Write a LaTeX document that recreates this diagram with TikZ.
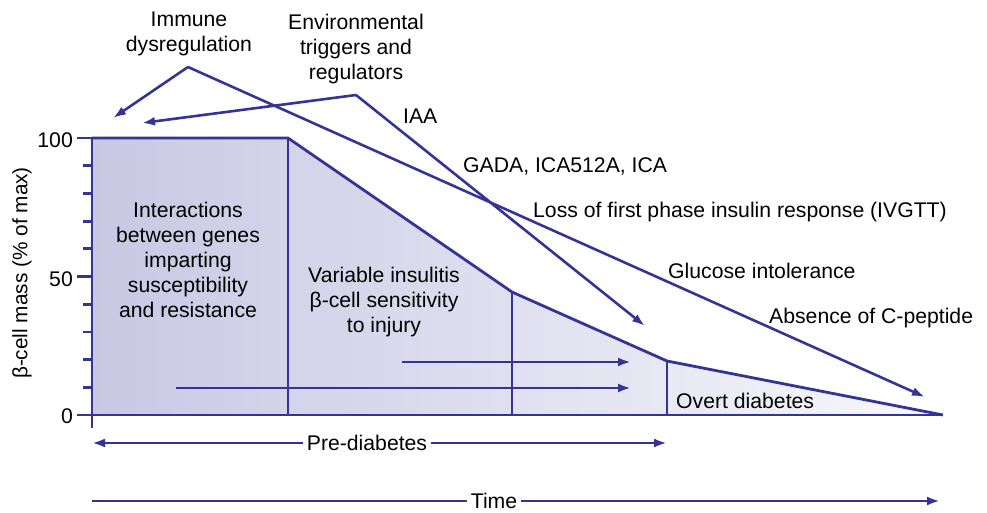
\documentclass[tikz,border=0pt]{standalone}
\usepackage{fontspec}
\setmainfont{Liberation Sans}
\usetikzlibrary{arrows.meta}
\definecolor{lc}{RGB}{52,52,150}
\definecolor{fillL}{RGB}{200,200,228}
\definecolor{fillR}{RGB}{248,248,252}
\begin{document}
\begin{tikzpicture}[x=1pt,y=-1pt,line join=round,
  every node/.style={font=\fontsize{21.2}{25}\selectfont,text=black},
  ln/.style={draw=lc,line width=2.8pt},
  arr/.style={draw=lc,line width=2.6pt,-{Latex[length=13pt,width=9pt]}},
  lab/.style={anchor=base west,inner sep=0pt},
  blk/.style={anchor=base,align=center,inner sep=0pt},
  tick/.style={anchor=base east,inner sep=0pt}]
\useasboundingbox (0,0) rectangle (987,512);
% chart outline points
\coordinate (p0) at (92,415);
\coordinate (p1) at (92,138);
\coordinate (p2) at (288,138);
\coordinate (p3) at (512,292);
\coordinate (p4) at (667,361);
\coordinate (p5) at (943,415);
\coordinate (b2) at (288,415);
\coordinate (b3) at (512,415);
\coordinate (b4) at (667,415);
\coordinate (axB) at (92,428);
\coordinate (axL) at (77,415);
\shade[left color=fillL,right color=fillR] (p0) -- (p1) -- (p2) -- (p3) -- (p4) -- (p5) -- cycle;
\draw[ln] (p1) -- (p2) -- (p3) -- (p4) -- (p5);
\draw[ln] (b2) -- (p2);
\draw[ln] (b3) -- (p3);
\draw[ln] (b4) -- (p4);
\draw[ln] (axB) -- (p1);
\draw[ln] (axL) -- (p5);
\foreach \i in {1,2,3,4,6,7,8,9}{\draw[ln] (83,415-27.7*\i) -- (92,415-27.7*\i);}
\foreach \i in {5,10}{\draw[ln] (77,415-27.7*\i) -- (92,415-27.7*\i);}
% tick labels
\node[tick] (t100) at (73,147) {100};
\node[tick] (t50) at (73,286) {50};
\node[tick] (t0) at (73,423) {0};
\node[rotate=90,inner sep=0pt,font=\fontsize{20.8}{25}\selectfont] (ylab) at (22,273) {β-cell mass (\% of max)};
% top labels and arrows
\node[blk] (imm) at (189,51) {Immune\\dysregulation};
\node[blk] (env) at (356,79) {Environmental\\triggers and\\regulators};
\coordinate (immA) at (188,67);
\coordinate (immL) at (113,118);
\coordinate (immR) at (925,397);
\coordinate (envA) at (356,95);
\coordinate (envL) at (142,123);
\coordinate (envR) at (645,326);
\draw[arr] (immA) -- (immL);
\draw[arr] (immA) -- (immR);
\draw[arr] (envA) -- (envL);
\draw[arr] (envA) -- (envR);
\node[lab] (iaa) at (403,123) {IAA};
\node[lab] (gada) at (463,172) {GADA, ICA512A, ICA};
\node[lab] (loss) at (533,217) {Loss of first phase insulin response (IVGTT)};
\node[lab] (gluc) at (668,278) {Glucose intolerance};
\node[lab] (absc) at (769,323) {Absence of C-peptide};
\node[lab] (overt) at (676,408) {Overt diabetes};
\node[blk] (inter) at (188,317) {Interactions\\between genes\\imparting\\susceptibility\\and resistance};
\node[blk] (vari) at (384,332) {Variable insulitis\\β-cell sensitivity\\to injury};
% inner arrows
\coordinate (a1s) at (402,362);
\coordinate (a1e) at (631,362);
\coordinate (a2s) at (176,388);
\coordinate (a2e) at (631,388);
\draw[arr] (a1s) -- (a1e);
\draw[arr] (a2s) -- (a2e);
% pre-diabetes and time
\node (pd) at (367,443) {Pre-diabetes};
\coordinate (pdL) at (92,443);
\coordinate (pdR) at (667,443);
\draw[arr] (pd.west) -- (pdL);
\draw[arr] (pd.east) -- (pdR);
\node (time) at (494,501) {Time};
\coordinate (tL) at (92,501);
\coordinate (tR) at (940,501);
\draw[ln] (tL) -- (time.west);
\draw[arr] (time.east) -- (tR);
\end{tikzpicture}
\end{document}
